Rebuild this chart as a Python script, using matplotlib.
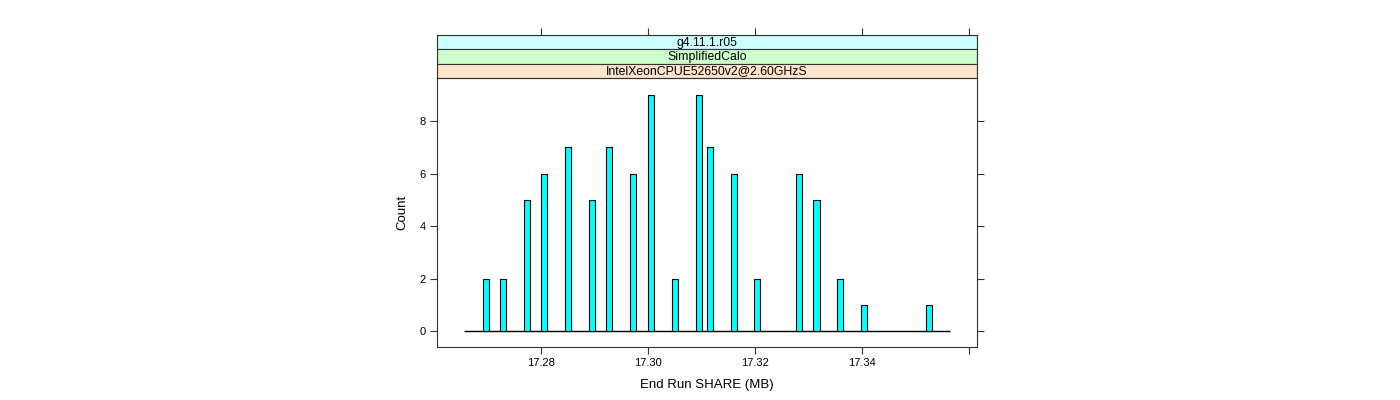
import matplotlib
matplotlib.use("Agg")
import matplotlib.pyplot as plt
from matplotlib.patches import Rectangle

plt.rcParams['font.family'] = ['Liberation Sans', 'DejaVu Sans']

# Data (bin centres and counts)
bin_centers = [17.2697, 17.2730, 17.2774, 17.2806, 17.2851, 17.2896, 17.2928,
               17.2973, 17.3006, 17.3050, 17.3095, 17.3116, 17.3161, 17.3204,
               17.3283, 17.3315, 17.3359, 17.3404, 17.3526]
counts = [2, 2, 5, 6, 7, 5, 7, 6, 9, 2, 9, 7, 6, 2, 6, 5, 2, 1, 1]
hist_range = [17.2657, 17.3565]
bar_width = 0.00115

x_ticks = [17.28, 17.30, 17.32, 17.34, 17.36]
x_tick_labels = ["17.28", "17.30", "17.32", "17.34", ""]
y_ticks = [0, 2, 4, 6, 8]
strip_labels = ["g4.11.1.r05", "SimplifiedCalo", "IntelXeonCPUE52650v2@2.60GHzS"]
strip_colors = ["#ccffff", "#ccffcc", "#ffe5cc"]
xlabel = "End Run SHARE (MB)"
ylabel = "Count"

xlim = (17.2606, 17.3615)
ylim = (-0.61, 9.64)

W, H = 1400, 400
fig = plt.figure(figsize=(W / 100, H / 100), dpi=100)

L, R = 437, 977
B, T = 347, 78
ax = fig.add_axes([L / W, 1 - B / H, (R - L) / W, (B - T) / H])

frame_col = "#333333"
ax.hlines(0, hist_range[0], hist_range[1], color="black", lw=1.0, zorder=2)
ax.bar(bin_centers, counts, width=bar_width, color="#00ffff",
       edgecolor="black", linewidth=0.8, zorder=3)

ax.set_xlim(*xlim)
ax.set_ylim(*ylim)
ax.set_xticks(x_ticks)
ax.set_xticklabels(x_tick_labels)
ax.set_yticks(y_ticks)
ax.set_yticklabels([str(v) for v in y_ticks])
ax.tick_params(axis="both", direction="out", length=5, width=0.8,
               color=frame_col, labelsize=8, pad=3)
ax.tick_params(axis="y", right=True, labelright=False)
ax.tick_params(axis="x", top=False, labeltop=False)
for s in ax.spines.values():
    s.set_color(frame_col)
    s.set_linewidth(0.8)
ax.set_xlabel(xlabel, fontsize=9.5, labelpad=8)
ax.set_ylabel(ylabel, fontsize=9.5, labelpad=8)

# Strips
ST = 35
sax = fig.add_axes([L / W, 1 - T / H, (R - L) / W, (T - ST) / H])
sax.set_xlim(*xlim)
sax.set_ylim(0, 3)
n = len(strip_labels)
for i, (lab, col) in enumerate(zip(strip_labels, strip_colors)):
    y0 = n - 1 - i
    sax.add_patch(Rectangle((xlim[0], y0), xlim[1] - xlim[0], 1,
                            facecolor=col, edgecolor=frame_col, lw=0.8,
                            zorder=1))
    sax.text((xlim[0] + xlim[1]) / 2, y0 + 0.45, lab, ha="center",
             va="center", fontsize=8.8, zorder=2)
sax.set_xticks(x_ticks)
sax.set_yticks([])
sax.tick_params(axis="x", direction="out", length=5, width=0.8,
                color=frame_col, bottom=False, labelbottom=False,
                top=True, labeltop=False)
for s in sax.spines.values():
    s.set_color(frame_col)
    s.set_linewidth(0.8)

fig.savefig("out.png", dpi=100, facecolor="white")
